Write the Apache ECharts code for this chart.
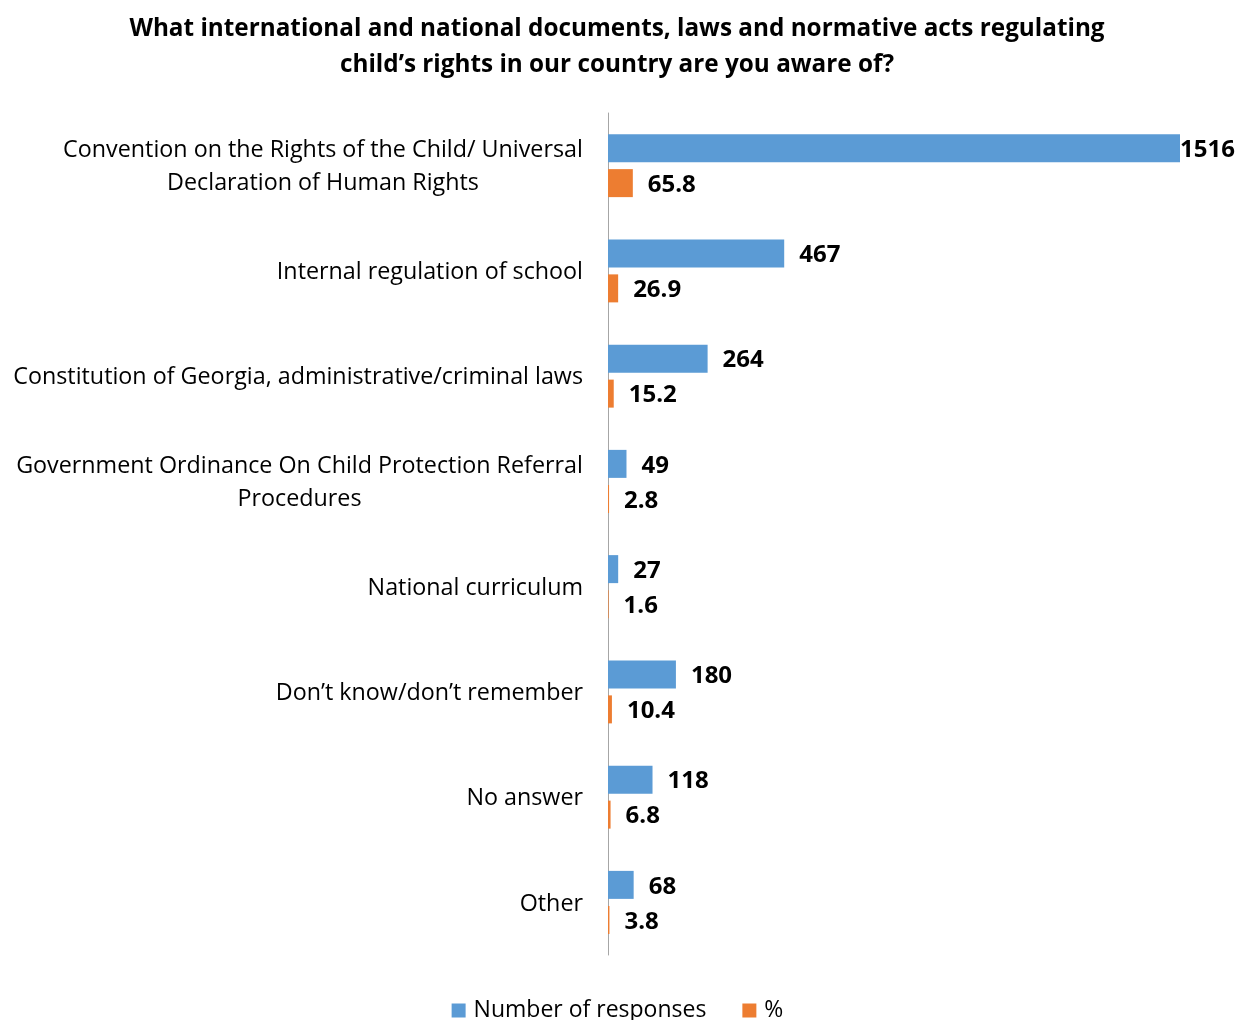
<!DOCTYPE html>
<html>
<head>
<meta charset="utf-8">
<title>Awareness of child's rights documents</title>
<script src="https://cdn.jsdelivr.net/npm/echarts@6/dist/echarts.min.js"></script>
<style>
  html, body { margin: 0; padding: 0; background: #fff; }
  #chart { width: 1235px; height: 1020px; }
</style>
</head>
<body>
<div id="chart"></div>
<script>
// Survey answers, top to bottom
const categories = [
  'Convention on the Rights of the Child/ Universal\nDeclaration of Human Rights',
  'Internal regulation of school',
  'Constitution of Georgia, administrative/criminal laws',
  'Government Ordinance On Child Protection Referral\nProcedures',
  'National curriculum',
  'Don\u2019t know/don\u2019t remember',
  'No answer',
  'Other'
];
const responses = [1516, 467, 264, 49, 27, 180, 118, 68];
const percents = [65.8, 26.9, 15.2, 2.8, 1.6, 10.4, 6.8, 3.8];

const FONT = '"Open Sans", "Noto Sans", sans-serif';
const LABEL_SIZE = 23.3;

// Multi-line category names: lines are centred on each other, block right-aligned
const measure = document.createElement('canvas').getContext('2d');
measure.font = LABEL_SIZE + 'px ' + FONT;
const rich = {};
const catNames = categories.map((c, i) => {
  if (c.indexOf('\n') < 0) return c;
  const lines = c.split('\n');
  const w = Math.ceil(Math.max(...lines.map(l => measure.measureText(l).width)));
  rich['m' + i] = { width: w, align: 'center', fontSize: LABEL_SIZE, fontFamily: FONT, color: '#000', lineHeight: 33 };
  return lines.map(l => '{m' + i + '|' + l + '}').join('\n');
});

const maxResp = Math.max(...responses);
const respData = responses.map(v => v === maxResp ? { value: v, label: { distance: 0 } } : v);

const valueLabel = {
  show: true, position: 'right', distance: 15, offset: [0, 2],
  fontFamily: FONT, fontSize: 24, fontWeight: 'bold', color: '#000'
};

const chart = echarts.init(document.getElementById('chart'));
chart.setOption({
  animation: false,
  backgroundColor: '#fff',
  title: {
    text: 'What international and national documents, laws and normative acts regulating\nchild\u2019s rights in our country are you aware of?',
    left: 612,
    textAlign: 'center',
    top: 6,
    textStyle: { fontFamily: FONT, fontSize: 24.3, fontWeight: 'bold', color: '#000', lineHeight: 36 }
  },
  legend: {
    data: ['Number of responses', '%'],
    left: 'center',
    top: 994,
    itemWidth: 14,
    itemHeight: 14,
    itemGap: 36,
    icon: 'rect',
    textStyle: { fontFamily: FONT, fontSize: 23, color: '#000', padding: [0, 0, 0, 3] }
  },
  grid: { left: 608, right: 55, top: 113, bottom: 65, containLabel: false },
  xAxis: {
    type: 'value',
    min: 0,
    max: maxResp,
    show: false
  },
  yAxis: {
    type: 'category',
    inverse: true,
    data: catNames,
    axisLine: { show: true, lineStyle: { color: '#a6a6a6', width: 1 } },
    axisTick: { show: false },
    axisLabel: {
      margin: 25,
      fontFamily: FONT,
      fontSize: LABEL_SIZE,
      color: '#000',
      lineHeight: 33,
      padding: [3, 0, 0, 0],
      rich: rich
    }
  },
  series: [
    {
      name: 'Number of responses',
      type: 'bar',
      data: respData,
      barWidth: 28,
      barGap: '25%',
      itemStyle: { color: '#5b9bd5' },
      label: valueLabel
    },
    {
      name: '%',
      type: 'bar',
      data: percents,
      barWidth: 28,
      barGap: '25%',
      itemStyle: { color: '#ed7d31' },
      label: valueLabel
    }
  ]
});
</script>
</body>
</html>
